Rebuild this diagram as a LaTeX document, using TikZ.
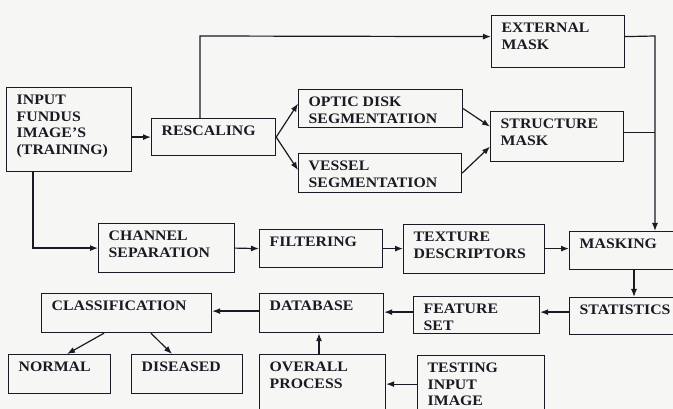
\documentclass[tikz,border=0pt]{standalone}
\usepackage{fontspec}
\setmainfont{Liberation Serif}[FakeStretch=1.09]
\usetikzlibrary{arrows.meta,calc}
\definecolor{ink}{HTML}{1A1A24}
\definecolor{paper}{HTML}{F6F6F4}
\tikzset{
  box/.style={draw=ink, line width=1.2pt, rectangle, inner sep=0pt, anchor=north west},
  txt/.style={anchor=north west, inner sep=0pt, align=left, text=ink,
    font=\fontsize{14.5}{16.5}\selectfont\bfseries},
  arr/.style={draw=ink, line width=1.2pt, -{Latex[length=8pt,width=6pt]}},
  ln/.style={draw=ink, line width=1.2pt}
}
% \bx{name}{x}{y}{w}{h}{text}
\newcommand{\bx}[6]{%
  \node[box, minimum width=#4pt, minimum height=#5pt] (#1) at (#2,#3) {};
  \node[txt] (#1-t) at ([xshift=10.5pt,yshift=-8pt]#1.north west) {#6};
}
\begin{document}
\begin{tikzpicture}[x=1pt,y=-1pt]
\clip (0,0) rectangle (673,409);
\fill[paper] (0,0) rectangle (673,409);

\bx{input}{6}{87}{125}{84}{INPUT\\FUNDUS\\IMAGE’S\\(TRAINING)}
\bx{resc}{151}{118}{124}{37}{RESCALING}
\bx{optic}{298}{89}{164}{38}{OPTIC DISK\\SEGMENTATION}
\bx{vessel}{298}{153}{163}{39}{VESSEL\\SEGMENTATION}
\bx{ext}{491}{15}{133}{52}{EXTERNAL\\MASK}
\bx{struct}{490}{111}{133}{50}{STRUCTURE\\MASK}
\bx{chan}{98}{223}{136}{49}{CHANNEL\\SEPARATION}
\bx{filt}{259}{229}{123}{38}{FILTERING}
\bx{tex}{403}{224}{141}{49}{TEXTURE\\DESCRIPTORS}
\bx{mask}{569}{231}{121}{38}{MASKING}
\bx{stat}{569}{297}{121}{37}{STATISTICS}
\bx{feat}{413}{296}{126}{37}{FEATURE\\SET}
\bx{db}{259}{293}{124}{39}{DATABASE}
\bx{cls}{41}{293}{170}{39}{CLASSIFICATION}
\bx{normal}{8}{354}{102}{39}{NORMAL}
\bx{dis}{131}{354}{111}{39}{DISEASED}
\bx{over}{259}{354}{126}{66}{OVERALL\\PROCESS}
\bx{test}{417}{355}{127}{65}{TESTING\\INPUT\\IMAGE}

\coordinate (rc) at (655,36);
\coordinate (lc) at (200,36);

% top part
\draw[arr] (resc.west -| input.east) -- (resc.west);
\draw[arr] ([xshift=49]resc.north west) -- (lc) -- ([yshift=5]ext.west);
\draw[arr] (resc.east) -- ([yshift=5]optic.west);
\draw[arr] (resc.east) -- ([yshift=3]vessel.west);
\draw[arr] (optic.east) -- ([yshift=10]struct.west);
\draw[arr] (vessel.east) -- ([yshift=-10]struct.west);
\draw[arr] ([yshift=5]ext.east) -- (rc) -- (rc |- mask.north);
\draw[ln] ([yshift=4]struct.east) -- ([yshift=4]struct.east -| rc);

% middle row
\draw[arr] ([xshift=27]input.south west) |- (chan.west);
\draw[arr] (chan.east) -- (filt.west);
\draw[arr] (filt.east) -- (filt.east -| tex.west);
\draw[arr] (filt.east -| tex.east) -- (filt.east -| mask.west);
\draw[arr] ([xshift=65]mask.south west) -- ([xshift=65]stat.north west);

% lower row
\draw[arr] ([yshift=4]stat.west) -- ([yshift=4]stat.west -| feat.east);
\draw[arr] ([yshift=3]feat.west) -- ([yshift=3]feat.west -| db.east);
\draw[arr] ([yshift=2]db.west) -- ([yshift=2]db.west -| cls.east);
\draw[arr] ([xshift=60]over.north west) -- ([xshift=60]db.south west);
\draw[arr] ([yshift=4]test.west) -- ([yshift=4]test.west -| over.east);
\draw[arr] ([xshift=63]cls.south west) -- ([xshift=59]normal.north west);
\draw[arr] ([xshift=110]cls.south west) -- ([xshift=41]dis.north west);
\end{tikzpicture}
\end{document}
